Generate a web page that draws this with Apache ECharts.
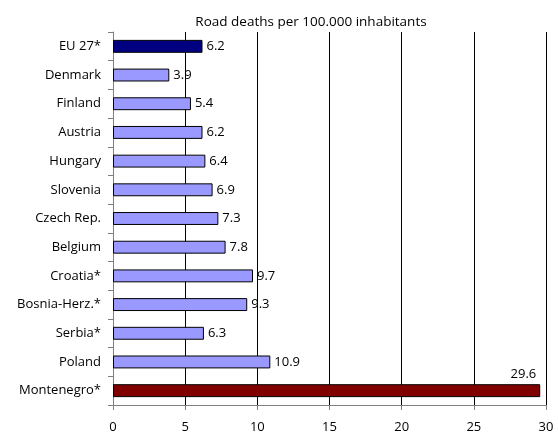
<!DOCTYPE html>
<html><head><meta charset="utf-8">
<script src="https://cdn.jsdelivr.net/npm/echarts@6/dist/echarts.min.js"></script>
<style>html,body{margin:0;padding:0;background:#fff}#c{width:558px;height:435px}</style>
</head><body><div id="c"></div>
<script>
const categories = ['EU 27*','Denmark','Finland','Austria','Hungary','Slovenia','Czech Rep.','Belgium','Croatia*','Bosnia-Herz.*','Serbia*','Poland','Montenegro*'];
const values = [6.2,3.9,5.4,6.2,6.4,6.9,7.3,7.8,9.7,9.3,6.3,10.9,29.6];
const xTicks = [0,5,10,15,20,25,30];
const titleText = 'Road deaths per 100.000 inhabitants';

const FONT = 'Open Sans';
const FS = 13;
const chart = echarts.init(document.getElementById('c'), null, {renderer:'canvas'});
const data = values.map((v,i)=>{
  const d = {value:v};
  if (categories[i]==='EU 27*') d.itemStyle = {color:'#000080'};
  if (categories[i]==='Montenegro*') {
    d.itemStyle = {color:'#800000'};
    d.label = {position:['100%','0%'], align:'right', verticalAlign:'bottom', offset:[-4,-3]};
  }
  return d;
});
chart.setOption({
  animation:false,
  title:{text:titleText, left:306, top:10, textAlign:'center', textStyle:{fontFamily:FONT,fontSize:13.5,fontWeight:'normal',color:'#000'}},
  grid:{left:113,right:12,top:32,bottom:30,containLabel:false},
  xAxis:{type:'value',min:xTicks[0],max:xTicks[xTicks.length-1],interval:5,
    axisLine:{show:true,lineStyle:{color:'#808080'}},
    axisTick:{show:true,length:5,lineStyle:{color:'#808080'}},
    axisLabel:{fontFamily:FONT,fontSize:FS,color:'#000',margin:16},
    splitLine:{show:true,lineStyle:{color:'#000',width:1}}},
  yAxis:{type:'category',data:categories,inverse:true,
    axisLine:{show:true,lineStyle:{color:'#808080'}},
    axisTick:{show:true,length:5,lineStyle:{color:'#808080'}},
    axisLabel:{fontFamily:FONT,fontSize:FS,color:'#000',margin:12}},
  series:[{type:'bar',data:data,barCategoryGap:'55%',
    itemStyle:{color:'#9999FF',borderColor:'#000',borderWidth:1},
    label:{show:true,position:'right',distance:4,fontFamily:FONT,fontSize:FS,color:'#000'}}]
});
</script></body></html>
